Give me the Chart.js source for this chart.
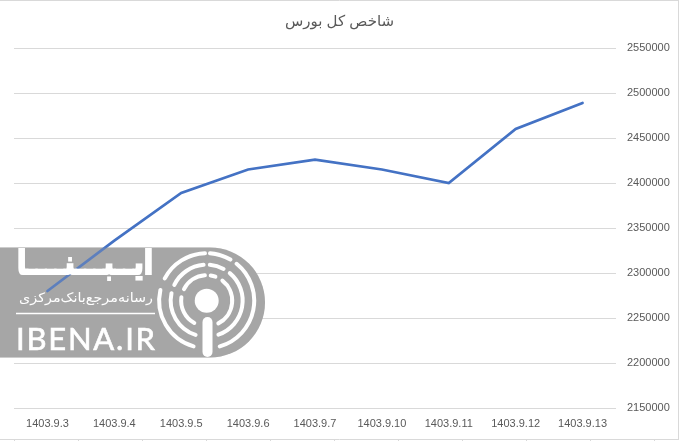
<!DOCTYPE html>
<html>
<head>
<meta charset="utf-8">
<style>
  html, body { margin: 0; padding: 0; background: #fff; }
  #wrap { position: relative; width: 679px; height: 441px; overflow: hidden; }
  #indexChart { position: absolute; left: 0; top: 0; }
  #logo { position: absolute; left: 0; top: 0; }
</style>
<script src="https://cdn.jsdelivr.net/npm/chart.js@4"></script>
</head>
<body>
<div id="wrap">
  <canvas id="indexChart" width="679" height="441"></canvas>
  <svg id="logo" width="679" height="441">
    <!-- 선이 살짝 비치도록 반투명 한 겹 -->
    <path d="M0 247.5 H210 A55 55 0 0 1 210 357.5 H0 Z" fill="#a6a6a6" fill-opacity="0.25"/>
    <text x="153" y="274" text-anchor="start" direction="rtl" font-family="DejaVu Sans" font-size="33" font-weight="bold" fill="#fff" stroke="#fff" stroke-width="2.2" textLength="136" lengthAdjust="spacingAndGlyphs">ایــبـــنــــا</text>
    <text x="153" y="302" text-anchor="start" direction="rtl" font-family="DejaVu Sans" font-size="13" fill="#fff" textLength="134" lengthAdjust="spacingAndGlyphs">رسانه‌مرجع‌بانک‌مرکزی</text>
    <line x1="16" y1="313.5" x2="155" y2="313.5" stroke="#fff" stroke-width="1.5"/>
    <text x="16" y="350" font-family="Lato, 'Open Sans', sans-serif" font-size="31" font-weight="400" fill="#fff" stroke="#fff" stroke-width="0.6" textLength="139" lengthAdjust="spacing">IBENA.IR</text>
    <g id="rings" fill="none" stroke="#fff" stroke-linecap="round"></g>
    <circle cx="206.7" cy="300.7" r="12" fill="#fff"/>
    <path d="M207.5 322 V352" stroke="#fff" stroke-width="10" stroke-linecap="round"/>
  </svg>
</div>
<script>
const chartTitle = 'شاخص کل بورس';
const dateLabels = ['1403.9.3', '1403.9.4', '1403.9.5', '1403.9.6', '1403.9.7', '1403.9.10', '1403.9.11', '1403.9.12', '1403.9.13'];
const indexValues = [2280000, 2336000, 2389000, 2415000, 2426000, 2415000, 2400000, 2460000, 2489000];
const yMin = 2150000;
const yMax = 2550000;
const yStep = 50000;

// 로고 링 조각: [반지름, 시작각, 끝각] (위쪽 기준 시계방향)
const ringArcs = [
  [47.5, -62, -2], [47.5, -164, -77], [47.5, 4, 30], [47.5, 39, 164],
  [36, -64, -5], [36, -162, -78], [36, 5, 28], [36, 40, 161],
  [25.5, -63, -4], [25.5, -151, -82], [25.5, 9, 20], [25.5, 38, 153]
];
const polar = (r, deg) => {
  const a = deg * Math.PI / 180;
  return `${(206.7 + r * Math.sin(a)).toFixed(1)} ${(300.7 - r * Math.cos(a)).toFixed(1)}`;
};
const ringGroup = document.getElementById('rings');
ringArcs.forEach(([r, from, to]) => {
  const arc = document.createElementNS('http://www.w3.org/2000/svg', 'path');
  const large = to - from > 180 ? 1 : 0;
  arc.setAttribute('d', `M${polar(r, from)} A${r} ${r} 0 ${large} 1 ${polar(r, to)}`);
  arc.setAttribute('stroke-width', '4');
  ringGroup.appendChild(arc);
});

// 격자 위, 선 아래에 로고 배경 깔기
const logoBackPlugin = {
  id: 'logoBack',
  beforeDatasetsDraw(chart) {
    const { ctx } = chart;
    ctx.save();
    ctx.fillStyle = '#a6a6a6';
    ctx.beginPath();
    ctx.moveTo(0, 247.5);
    ctx.lineTo(210, 247.5);
    ctx.arc(210, 302.5, 55, -Math.PI / 2, Math.PI / 2);
    ctx.lineTo(0, 357.5);
    ctx.closePath();
    ctx.fill();
    ctx.restore();
  }
};

// 바깥 테두리와 아래쪽 셀 눈금
const framePlugin = {
  id: 'frame',
  afterDraw(chart) {
    const { ctx } = chart;
    ctx.save();
    ctx.strokeStyle = '#d9d9d9';
    ctx.lineWidth = 1;
    ctx.beginPath();
    ctx.moveTo(0, 0.5);
    ctx.lineTo(679, 0.5);
    ctx.moveTo(678.5, 0);
    ctx.lineTo(678.5, 439);
    ctx.moveTo(0, 439.5);
    ctx.lineTo(679, 439.5);
    for (let x = 14.5; x < 679; x += 64) {
      ctx.moveTo(x, 439);
      ctx.lineTo(x, 441);
    }
    ctx.stroke();
    ctx.restore();
  }
};

new Chart(document.getElementById('indexChart').getContext('2d'), {
  type: 'line',
  data: {
    labels: dateLabels,
    datasets: [{
      data: indexValues,
      yAxisID: 'y',
      borderColor: '#4472c4',
      borderWidth: 2.7,
      pointRadius: 0,
      tension: 0,
      borderCapStyle: 'round'
    }]
  },
  options: {
    responsive: false,
    animation: false,
    layout: { padding: 0 },
    plugins: {
      legend: { display: false },
      tooltip: { enabled: false },
      title: {
        display: true,
        text: chartTitle,
        color: '#595959',
        font: { family: 'Liberation Sans, DejaVu Sans', size: 15, weight: 'normal' },
        padding: { top: 13, bottom: 17 }
      }
    },
    scales: {
      x: {
        offset: true,
        afterFit: scale => { scale.height = 33; },
        grid: { display: false },
        border: { display: false },
        ticks: { color: '#595959', font: { family: 'Liberation Sans', size: 11 }, maxRotation: 0, autoSkip: false, padding: 1 }
      },
      y: {
        position: 'right',
        min: yMin,
        max: yMax,
        afterFit: scale => { scale.width = 63; },
        grid: { color: '#d9d9d9', drawTicks: false },
        border: { display: false },
        ticks: {
          stepSize: yStep,
          color: '#595959',
          font: { family: 'Liberation Sans', size: 11 },
          padding: 11,
          callback: val => String(val)
        }
      },
      // 왼쪽 여백용 빈 축 (제목을 가운데에 두기 위해)
      leftGap: {
        axis: 'y',
        position: 'left',
        afterFit: scale => { scale.width = 14; },
        grid: { display: false },
        border: { display: false },
        ticks: { display: false }
      }
    }
  },
  plugins: [logoBackPlugin, framePlugin]
});
</script>
</body>
</html>
